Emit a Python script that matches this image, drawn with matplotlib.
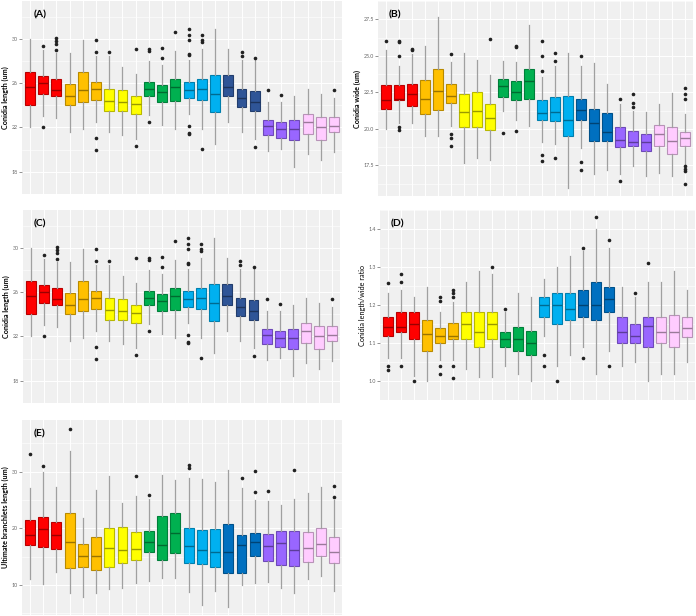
import matplotlib
matplotlib.use("Agg")
import matplotlib.pyplot as plt
import matplotlib.colors as mcolors

# group colours, 3 boxes each
fills_navy = ['#FF0000'] * 3 + ['#FFC000'] * 3 + ['#FFFF00'] * 3 + ['#00B050'] * 3 + \
    ['#00B0F0'] * 3 + ['#2F5597'] * 3 + ['#9966FF'] * 3 + ['#FFCCFF'] * 3
fills_blue = fills_navy[:15] + ['#0070C0'] * 3 + fills_navy[18:]

# (A) / (C) conidia length
A_hi = [30.0, 29.0, 28.7, 28.7, 29.9, 28.45, 28.45, 27.45, 26.8, 28.0, 27.65, 28.85,
        28.05, 29.1, 30.85, 29.1, 28.1, 28.05, 24.3, 24.3, 24.85, 25.5, 25.05, 24.7]
A_q3 = [27.0, 26.6, 26.4, 25.9, 27.0, 26.1, 25.45, 25.35, 24.8, 26.1, 25.85, 26.4,
        26.1, 26.4, 26.7, 26.7, 25.5, 25.3, 22.7, 22.45, 22.7, 23.2, 22.9, 22.95]
A_med = [25.65, 26.0, 25.4, 24.85, 25.4, 25.45, 24.4, 24.3, 24.15, 25.45, 25.2, 25.65,
         25.4, 25.45, 25.05, 25.65, 24.65, 24.25, 22.1, 21.85, 21.85, 22.45, 22.0, 22.1]
A_q1 = [24.0, 25.0, 24.8, 24.0, 24.3, 24.5, 23.45, 23.5, 23.2, 24.8, 24.3, 24.35,
        24.7, 24.5, 23.35, 24.8, 23.8, 23.5, 21.3, 21.05, 20.9, 21.45, 20.9, 21.6]
A_lo = [22.05, 23.0, 22.85, 21.6, 21.9, 22.45, 21.6, 21.35, 21.0, 23.1, 22.25, 21.9,
        23.2, 21.9, 20.55, 22.45, 21.6, 21.0, 19.85, 20.05, 18.4, 19.6, 19.05, 19.8]
A_out = [[], [29.3, 22.0], [30.05, 29.8, 29.5, 29.0], [], [], [29.85, 28.8, 21.05, 20.0],
         [28.8], [], [29.05, 20.3], [29.1, 28.9, 22.5], [29.2, 28.3], [30.65],
         [30.9, 30.3, 29.85, 28.65, 28.55, 22.1, 21.5, 21.4], [30.3, 29.85, 29.7, 20.1],
         [], [], [28.8, 28.4], [28.3, 20.2], [25.35], [24.9], [], [], [], [25.35]]

# (B) conidia wide
B_hi = [25.4, 24.28, 25.15, 25.7, 27.65, 24.6, 25.2, 24.72, 23.67, 24.67, 24.54, 27.11,
        23.52, 24.28, 25.2, 24.28, 24.5, 23.09, 21.67, 21.24, 21.17, 21.72, 22.43, 21.02]
B_q3 = [22.98, 23.02, 23.09, 23.37, 24.09, 23.09, 22.37, 22.5, 21.67, 23.41, 23.28, 24.11,
        21.98, 22.2, 22.26, 22.07, 21.39, 21.09, 20.09, 19.83, 19.67, 20.26, 20.11, 19.76]
B_med = [22.0, 22.05, 22.39, 22.07, 22.59, 22.28, 21.13, 21.24, 20.76, 22.91, 22.5, 23.28,
         21.09, 21.13, 20.59, 21.28, 20.37, 19.76, 19.24, 19.11, 19.07, 19.67, 19.17, 19.39]
B_q1 = [21.37, 21.98, 21.57, 20.98, 21.28, 21.78, 20.15, 20.09, 19.93, 22.17, 21.96, 22.04,
        20.63, 20.54, 19.5, 20.59, 19.17, 19.17, 18.78, 18.8, 18.48, 18.85, 18.26, 18.85]
B_lo = [20.0, 20.37, 20.43, 19.5, 19.5, 20.2, 17.65, 17.98, 17.87, 21.2, 20.59, 20.2,
        19.11, 18.96, 15.98, 18.7, 16.89, 17.17, 16.89, 17.48, 16.78, 17.0, 16.74, 17.54]
B_out = [[26.0], [26.0, 25.93, 25.0, 20.15, 19.93], [25.48, 25.41], [], [],
         [25.1, 19.67, 19.39, 18.85], [], [], [26.13], [19.72], [25.7, 25.59, 19.87], [],
         [26.0, 25.0, 23.96, 18.24, 17.83], [25.22, 24.67, 17.98], [], [25.0, 17.76, 17.15],
         [], [], [22.04, 16.46], [22.39, 21.78, 21.5], [], [], [],
         [22.76, 22.39, 22.07, 17.43, 17.22, 17.11, 16.24]]

# (D) length / wide ratio
D_hi = [1.233, 1.241, 1.221, 1.249, 1.181, 1.209, 1.261, 1.291, 1.281, 1.181, 1.231, 1.221,
        1.269, 1.300, 1.331, 1.342, 1.400, 1.350, 1.249, 1.221, 1.261, 1.261, 1.291, 1.241]
D_q3 = [1.170, 1.181, 1.181, 1.160, 1.140, 1.152, 1.183, 1.183, 1.181, 1.130, 1.143, 1.132,
        1.221, 1.231, 1.231, 1.240, 1.260, 1.249, 1.170, 1.150, 1.170, 1.170, 1.173, 1.170]
D_med = [1.142, 1.142, 1.150, 1.124, 1.120, 1.120, 1.150, 1.130, 1.150, 1.110, 1.110, 1.100,
         1.201, 1.201, 1.190, 1.201, 1.201, 1.217, 1.130, 1.120, 1.146, 1.130, 1.130, 1.140]
D_q1 = [1.120, 1.130, 1.110, 1.080, 1.100, 1.110, 1.110, 1.090, 1.110, 1.090, 1.080, 1.069,
        1.170, 1.150, 1.160, 1.170, 1.160, 1.181, 1.100, 1.100, 1.090, 1.100, 1.090, 1.116]
D_lo = [1.060, 1.060, 1.012, 1.001, 1.056, 1.056, 1.031, 1.011, 1.011, 1.040, 1.019, 0.999,
        1.120, 1.040, 1.069, 1.090, 1.019, 1.080, 1.040, 1.050, 1.001, 1.019, 1.019, 1.050]
D_out = [[1.259, 1.040, 1.030], [1.281, 1.260, 1.040], [1.0], [], [1.221, 1.211, 1.040, 1.019],
         [1.239, 1.231, 1.221, 1.040, 1.009], [], [], [1.302], [1.190], [], [],
         [1.069, 1.040], [1.0], [], [1.352, 1.060], [1.433], [1.372, 1.040], [], [1.231],
         [1.311], [], [], []]

# (E) ultimate branchlets length
E_hi = [27.06, 30.0, 27.35, 33.7, 21.88, 26.76, 29.24, 24.41, 25.7, 25.12, 29.41, 28.53,
        28.82, 28.65, 28.24, 30.29, 27.06, 25.0, 24.88, 24.12, 25.12, 26.29, 27.24, 25.0]
E_q3 = [21.47, 22.06, 21.18, 22.65, 17.24, 18.53, 20.0, 20.29, 19.29, 19.59, 22.18, 22.65,
        20.0, 19.71, 19.82, 20.71, 18.82, 19.12, 18.94, 19.53, 19.53, 19.41, 20.0, 18.53]
E_med = [18.82, 19.88, 18.82, 17.65, 15.12, 15.12, 16.47, 16.18, 16.29, 17.65, 17.06, 19.24,
         16.88, 16.18, 15.76, 15.88, 17.06, 17.53, 16.94, 17.35, 16.18, 16.47, 17.18, 15.76]
E_q1 = [17.06, 16.65, 16.29, 12.94, 13.24, 12.65, 13.12, 13.94, 14.41, 15.76, 14.41, 15.71,
        13.82, 13.65, 13.12, 12.18, 12.18, 15.18, 14.29, 13.53, 13.35, 14.0, 15.12, 13.82]
E_lo = [11.0, 10.12, 12.35, 8.65, 7.82, 8.65, 9.29, 9.41, 10.29, 10.7, 11.29, 11.29,
        8.82, 6.47, 9.0, 6.18, 10.0, 10.29, 10.59, 9.41, 8.53, 11.0, 11.65, 8.94]
E_out = [[33.06], [31.0], [], [37.53], [], [], [], [], [29.29], [25.88], [], [],
         [31.18, 30.59], [], [], [], [28.82], [30.12, 26.47], [26.65], [], [30.29], [], [],
         [27.47, 25.59]]

plt.rcParams['font.family'] = ['Lato', 'DejaVu Sans']


def darker(c, f=0.72):
    r, g, b = mcolors.to_rgb(c)
    return (r * f, g * f, b * f)


def panel(rect, letter, ylabel, hi, q3, med, q1, lo, out, fills, ylim, yticks, fmt,
          bold=True):
    ax = fig.add_axes(rect)
    stats = []
    for i in range(len(med)):
        stats.append(dict(med=med[i], q1=q1[i], q3=q3[i], whislo=lo[i], whishi=hi[i],
                          fliers=out[i]))
    pos = list(range(1, len(med) + 1))
    bp = ax.bxp(stats, positions=pos, widths=0.75, patch_artist=True, showcaps=False,
                whiskerprops=dict(color='#a0a0a0', lw=0.9),
                flierprops=dict(marker='o', markersize=1.6, markerfacecolor='#222222',
                                markeredgecolor='#222222'),
                medianprops=dict(lw=1.0), boxprops=dict(lw=0.8))
    for b, m, c in zip(bp['boxes'], bp['medians'], fills):
        b.set_facecolor(c)
        b.set_edgecolor(darker(c))
        m.set_color(darker(c, 0.6))
    ax.set_facecolor('#F0F0F0')
    ax.set_xlim(0.4, len(med) + 0.6)
    ax.set_ylim(*ylim)
    ax.set_xticks(pos)
    ax.set_xticklabels([])
    ax.tick_params(axis='x', length=0)
    ax.set_yticks(yticks)
    ax.set_yticklabels([fmt.format(t) for t in yticks])
    step = yticks[1] - yticks[0]
    minor = [yticks[0] - step / 2] + [t + step / 2 for t in yticks]
    ax.set_yticks(minor, minor=True)
    ax.tick_params(axis='y', which='major', labelsize=3.8, labelcolor='#666666',
                   length=2, width=0.5, color='#666666', pad=1)
    ax.tick_params(axis='y', which='minor', length=0)
    ax.grid(True, which='major', color='white', lw=0.7)
    ax.grid(True, which='minor', axis='y', color='white', lw=0.4)
    ax.set_axisbelow(True)
    for s in ax.spines.values():
        s.set_visible(False)
    ax.set_ylabel(ylabel, fontsize=5.2, fontweight='bold' if bold else 'normal',
                  labelpad=2)
    ax.text(0.035, 0.95, letter, transform=ax.transAxes, fontsize=7.5, fontweight='bold',
            va='top', ha='left')
    return ax


W, H = 696, 616
fig = plt.figure(figsize=(W / 100, H / 100), dpi=100)


def rect(x0, y0, x1, y1):
    return [x0 / W, 1 - y1 / H, (x1 - x0) / W, (y1 - y0) / H]


panel(rect(22, 1, 342, 194), '(A)', 'Conidia length (um)', A_hi, A_q3, A_med, A_q1, A_lo,
      A_out, fills_navy, (17.9, 33.4), [18, 22, 26, 30], '{:.0f}')
panel(rect(378, 1, 693, 196), '(B)', 'Conidia wide (um)', B_hi, B_q3, B_med, B_q1, B_lo,
      B_out, fills_blue, (15.4, 28.2), [17.5, 20.0, 22.5, 25.0, 27.5], '{:.1f}')
panel(rect(23, 210, 340, 403), '(C)', 'Conidia length (um)', A_hi, A_q3, A_med, A_q1, A_lo,
      A_out, fills_navy, (17.9, 33.4), [18, 22, 26, 30], '{:.0f}')
panel(rect(380, 210, 695, 400), '(D)', 'Conidia length/wide ratio', D_hi, D_q3, D_med, D_q1,
      D_lo, D_out, fills_blue, (0.991, 1.451), [1.0, 1.1, 1.2, 1.3, 1.4], '{:.1f}',
      bold=False)
panel(rect(22, 420, 342, 615), '(E)', 'Ultimate branchlets length (um)', E_hi, E_q3, E_med,
      E_q1, E_lo, E_out, fills_blue, (4.7, 39.1), [10, 20, 30], '{:.0f}')

fig.savefig('out.png', dpi=100, facecolor='white')
